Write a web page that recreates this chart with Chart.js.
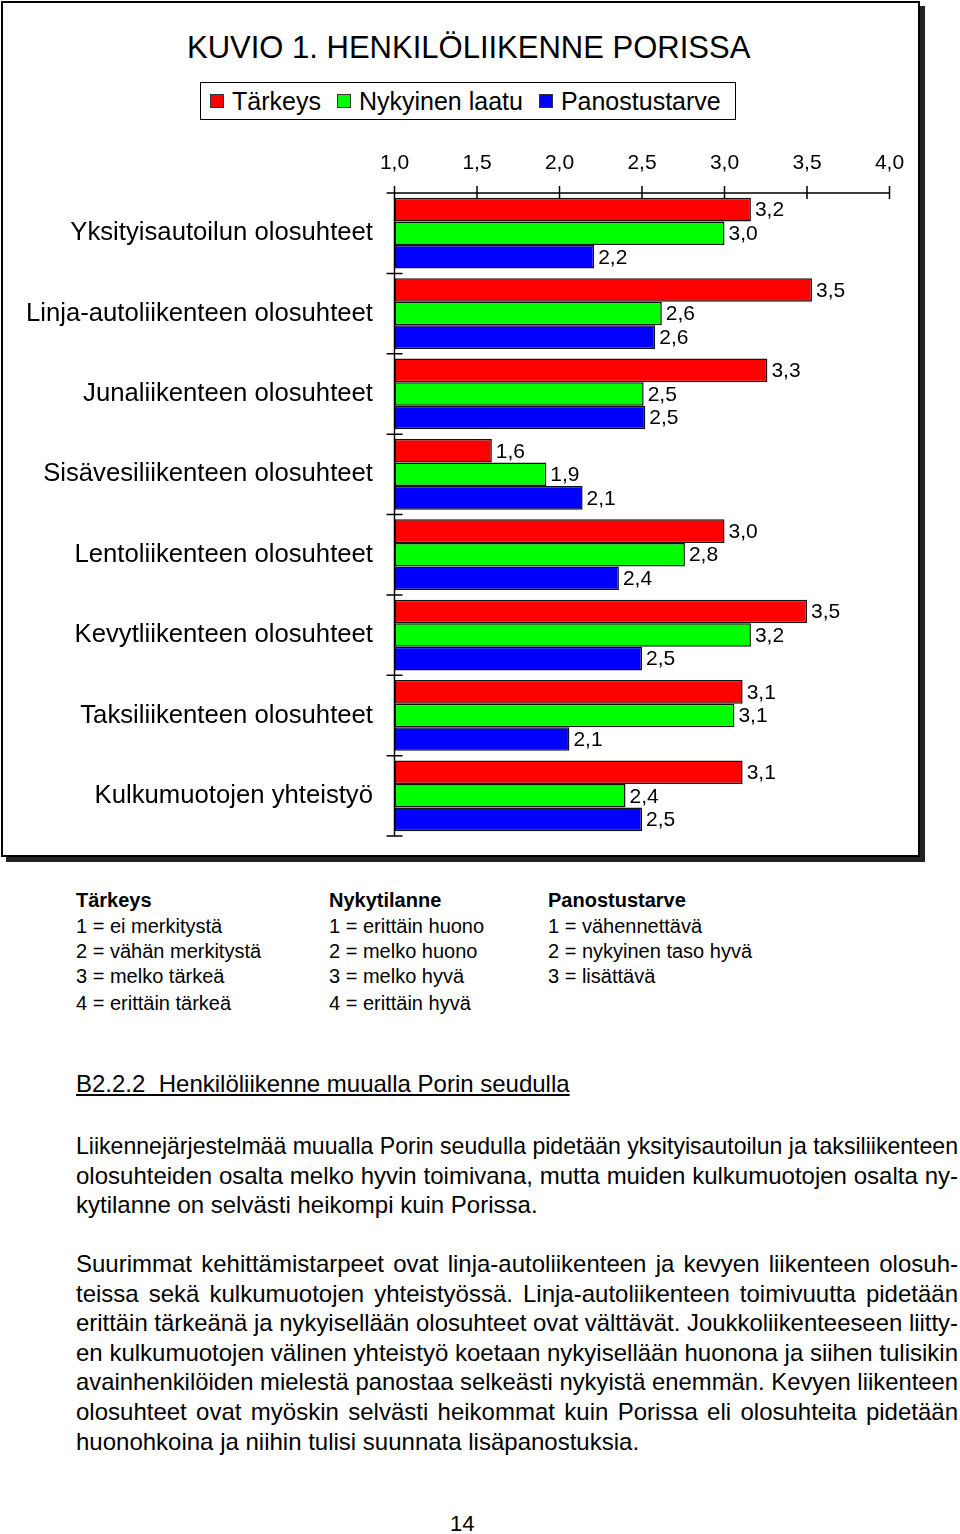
<!DOCTYPE html>
<html><head><meta charset="utf-8">
<script src="https://cdn.jsdelivr.net/npm/chart.js@4.4.1/dist/chart.umd.min.js"></script>
<style>
html,body{margin:0;padding:0;background:#fff;}
body{width:960px;height:1534px;position:relative;font-family:"Liberation Sans",Arial,sans-serif;color:#000;overflow:hidden;}
#frame{position:absolute;left:1px;top:1px;width:915px;height:852px;border:2px solid #000;box-shadow:5px 5px 0 #222;background:#fff;}
#title{position:absolute;left:187px;top:30px;font-size:31px;line-height:36px;white-space:nowrap;}
#legend{position:absolute;left:200px;top:82px;width:525px;height:36px;border:1.5px solid #000;display:flex;align-items:center;padding-left:9px;box-sizing:content-box;}
#legend .it{display:flex;align-items:center;margin-right:16px;font-size:25px;line-height:30px;white-space:nowrap;}
#legend .sq{width:12px;height:12px;border:1px solid #333;margin-right:8px;}
#chartWrap{position:absolute;left:0;top:130px;width:920px;height:726px;}
.note{position:absolute;font-size:20px;line-height:24px;white-space:nowrap;}
.note.b{font-weight:bold;}
#heading{position:absolute;left:76px;top:1070px;font-size:24px;line-height:28px;text-decoration:underline;white-space:nowrap;}
.pl{position:absolute;left:76px;width:882px;font-size:24px;line-height:28px;white-space:nowrap;text-align:justify;text-align-last:justify;transform-origin:0 0;}
.pl.last{text-align:left;text-align-last:left;}
#page{position:absolute;left:450px;top:1511px;font-size:22px;line-height:26px;}
</style></head>
<body>
<div id="frame"></div>
<div id="title">KUVIO 1. HENKILÖLIIKENNE PORISSA</div>
<div id="legend"></div>
<div id="chartWrap"><canvas id="c" width="920" height="726"></canvas></div>
<div id="notes"></div>
<div id="heading">B2.2.2&nbsp; Henkilöliikenne muualla Porin seudulla</div>
<div id="text"></div>
<div id="page">14</div>
<script>
// ---- data ----
const categories = [
  "Yksityisautoilun olosuhteet",
  "Linja-autoliikenteen olosuhteet",
  "Junaliikenteen olosuhteet",
  "Sisävesiliikenteen olosuhteet",
  "Lentoliikenteen olosuhteet",
  "Kevytliikenteen olosuhteet",
  "Taksiliikenteen olosuhteet",
  "Kulkumuotojen yhteistyö"
];
const seriesNames = ["Tärkeys", "Nykyinen laatu", "Panostustarve"];
const tarkeys      = [3.16, 3.53, 3.26, 1.59, 3.00, 3.50, 3.11, 3.11];
const nykyinenLaatu= [3.00, 2.62, 2.51, 1.92, 2.76, 3.16, 3.06, 2.40];
const panostustarve= [2.21, 2.58, 2.52, 2.14, 2.36, 2.50, 2.06, 2.50];
const xTickLabels  = ["1,0", "1,5", "2,0", "2,5", "3,0", "3,5", "4,0"];
const seriesColors = ["#ff0000", "#00ff00", "#0000ff"];

const noteColumns = [
  ["Tärkeys", "1 = ei merkitystä", "2 = vähän merkitystä", "3 = melko tärkeä", "4 = erittäin tärkeä"],
  ["Nykytilanne", "1 = erittäin huono", "2 = melko huono", "3 = melko hyvä", "4 = erittäin hyvä"],
  ["Panostustarve", "1 =  vähennettävä", "2 = nykyinen taso hyvä", "3 = lisättävä"]
];
const paragraphs = [
  ["Liikennejärjestelmää muualla Porin seudulla pidetään yksityisautoilun ja taksiliikenteen",
   "olosuhteiden osalta melko hyvin toimivana, mutta muiden kulkumuotojen osalta ny-",
   "kytilanne on selvästi heikompi kuin Porissa."],
  ["Suurimmat kehittämistarpeet ovat linja-autoliikenteen ja kevyen liikenteen olosuh-",
   "teissa sekä kulkumuotojen yhteistyössä. Linja-autoliikenteen toimivuutta pidetään",
   "erittäin tärkeänä ja nykyisellään olosuhteet ovat välttävät. Joukkoliikenteeseen liitty-",
   "en kulkumuotojen välinen yhteistyö koetaan nykyisellään huonona ja siihen tulisikin",
   "avainhenkilöiden mielestä panostaa selkeästi nykyistä enemmän. Kevyen liikenteen",
   "olosuhteet ovat myöskin selvästi heikommat kuin Porissa eli olosuhteita pidetään",
   "huonohkoina ja niihin tulisi suunnata lisäpanostuksia."]
];

// ---- legend ----
const lg = document.getElementById('legend');
seriesNames.forEach((n,i)=>{
  const it=document.createElement('div'); it.className='it';
  const sq=document.createElement('div'); sq.className='sq'; sq.style.background=seriesColors[i];
  const tx=document.createElement('span'); tx.textContent=n;
  it.appendChild(sq); it.appendChild(tx); lg.appendChild(it);
});

// ---- notes ----
const noteX=[76,329,548], noteY=[900,926,951,976,1003];
const notesEl=document.getElementById('notes');
noteColumns.forEach((col,ci)=>col.forEach((t,ri)=>{
  const d=document.createElement('div'); d.className='note'+(ri===0?' b':'');
  d.style.left=noteX[ci]+'px'; d.style.top=(noteY[ri]-12)+'px'; d.textContent=t; notesEl.appendChild(d);
}));

// ---- paragraphs ----
const textEl=document.getElementById('text');
const paraTop=[1146,1264], lineGap=29.6, W=882;
paragraphs.forEach((p,pi)=>p.forEach((t,li)=>{
  const d=document.createElement('div'); d.className='pl'+(li===p.length-1?' last':'');
  d.style.top=(paraTop[pi]+li*lineGap-14)+'px';
  const s=document.createElement('span'); s.textContent=t; d.appendChild(s);
  textEl.appendChild(d);
  const w=s.getBoundingClientRect().width;
  if(li<p.length-1 && w>W){ d.style.width=w+'px'; d.style.transform='scaleX('+(W/w)+')'; }
}));

// ---- chart ----
const FONT='"Liberation Sans", Arial, sans-serif';
const fmt=v=>v.toFixed(1).replace('.',',');

const axisPlugin={
  id:'axisTicks',
  afterDraw(chart){
    const {ctx, chartArea:a, scales:{x,y}}=chart;
    ctx.save();
    ctx.strokeStyle='#000'; ctx.lineWidth=1.5;
    ctx.beginPath();
    ctx.moveTo(a.left, a.top); ctx.lineTo(x.getPixelForValue(x.max), a.top);
    ctx.moveTo(a.left, a.top); ctx.lineTo(a.left, a.bottom);
    x.ticks.forEach(t=>{const px=x.getPixelForValue(t.value); ctx.moveTo(px,a.top-7); ctx.lineTo(px,a.top+6);});
    for(let i=0;i<=categories.length;i++){
      const py=y.getPixelForValue(i-0.5);
      ctx.moveTo(a.left-8,py); ctx.lineTo(i===0?a.left:a.left+8,py);
    }
    ctx.stroke(); ctx.restore();
  }
};
const valuePlugin={
  id:'valueLabels',
  afterDatasetsDraw(chart){
    const ctx=chart.ctx;
    ctx.save();
    ctx.font='21px '+FONT; ctx.fillStyle='#000'; ctx.textAlign='left'; ctx.textBaseline='middle';
    chart.data.datasets.forEach((ds,di)=>{
      chart.getDatasetMeta(di).data.forEach((bar,i)=>{
        ctx.fillText(fmt(ds.data[i]), bar.x+4, bar.y+1);
      });
    });
    ctx.restore();
  }
};

new Chart(document.getElementById('c'),{
  type:'bar',
  data:{
    labels:categories,
    datasets:[tarkeys,nykyinenLaatu,panostustarve].map((d,i)=>({
      label:seriesNames[i], data:d, backgroundColor:seriesColors[i],
      borderColor:'#111', borderWidth:1.5, borderSkipped:false,
      categoryPercentage:0.88, barPercentage:1.0, base:1
    }))
  },
  options:{
    indexAxis:'y', responsive:false, animation:false, devicePixelRatio:1,
    layout:{padding:{left:0,top:0,right:30.5,bottom:20}},
    plugins:{legend:{display:false}, tooltip:{enabled:false}},
    scales:{
      x:{position:'top', min:1, max:4,
        grid:{display:false, drawTicks:false}, border:{display:false},
        ticks:{stepSize:0.5, padding:17, color:'#000', font:{family:FONT,size:21}, maxRotation:0, autoSkip:false,
          callback:(v,i)=>xTickLabels[i]},
        afterFit(s){s.height=63; s.paddingLeft=0; s.paddingRight=0;}
      },
      y:{grid:{display:false, drawTicks:false}, border:{display:false},
        ticks:{padding:21.5, color:'#000', font:{family:FONT,size:25.7}},
        afterFit(s){s.width=394.5; s.paddingTop=0; s.paddingBottom=0;}
      }
    }
  },
  plugins:[axisPlugin,valuePlugin]
});
</script>
</body></html>
